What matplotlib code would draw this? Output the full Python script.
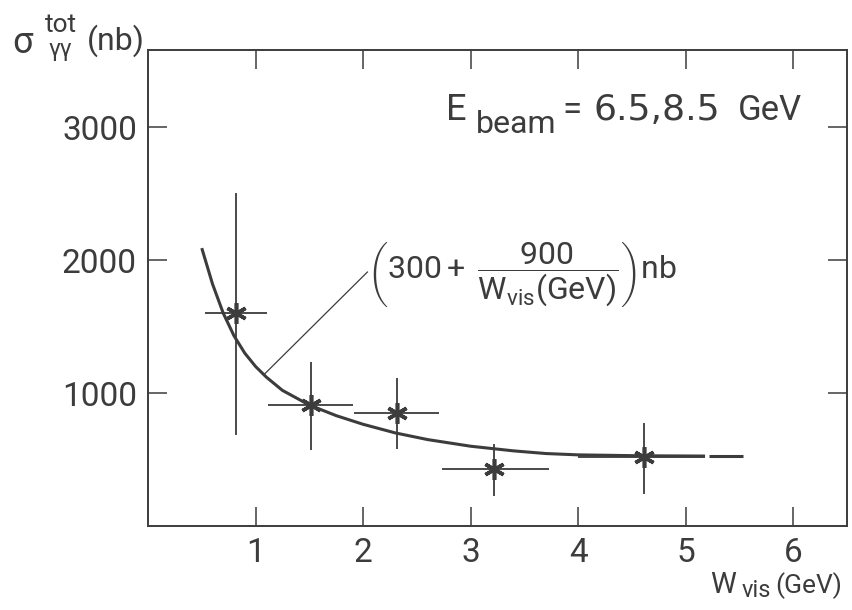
import numpy as np
from matplotlib import pyplot as plt

# measured points: W_vis (GeV), sigma (nb), with bar ends
w_vis = [0.82, 1.52, 2.32, 3.22, 4.61]
sigma = [1600, 910, 850, 425, 520]
w_lo = [0.53, 1.12, 1.92, 2.73, 4.00]
w_hi = [1.11, 1.91, 2.71, 3.73, 5.18]
sig_lo = [684, 571, 579, 226, 241]
sig_hi = [2504, 1233, 1113, 617, 774]

# fitted curve as drawn
curve_w = [0.50, 0.60, 0.70, 0.80, 0.90, 1.00, 1.10, 1.25, 1.50, 1.75,
           2.00, 2.30, 2.60, 3.00, 3.40, 3.70, 4.00, 4.60, 5.18]
curve_s = [2090, 1820, 1600, 1430, 1300, 1200, 1120, 1020, 910, 830,
           765, 700, 650, 600, 565, 545, 535, 528, 526]
tail_w = [5.22, 5.53]
tail_s = [526, 526]

xticks = [1, 2, 3, 4, 5, 6]
yticks = [1000, 2000, 3000]

ink = '#3c3c3c'
plt.rcParams['font.family'] = ['Roboto', 'DejaVu Sans']
plt.rcParams['mathtext.fontset'] = 'custom'
plt.rcParams['mathtext.rm'] = 'Roboto'
plt.rcParams['mathtext.it'] = 'Roboto:italic'
plt.rcParams['text.color'] = ink

W, H = 853, 610
fig = plt.figure(figsize=(W / 100, H / 100), dpi=100)
ax = fig.add_axes([148 / W, 1 - 526 / H, 699 / W, 476 / H])


def ptext(x, y, s, size, **kw):
    # place text by pixel position (x from left, baseline y from top)
    fig.text(x / W, 1 - y / H, s, fontsize=size, ha='left',
             va='baseline', **kw)


w = np.array(w_vis)
s = np.array(sigma)
xerr = [w - np.array(w_lo), np.array(w_hi) - w]
yerr = [s - np.array(sig_lo), np.array(sig_hi) - s]
ax.errorbar(w, s, xerr=xerr, yerr=yerr, fmt='none', ecolor=ink,
            elinewidth=1.3, capsize=0)
ax.plot(w, s, ls='none', marker=(6, 2, 0), ms=15, mew=2.6, mec=ink)

ax.plot(curve_w, curve_s, c=ink, lw=2.2, solid_capstyle='butt')
ax.plot(tail_w, tail_s, c=ink, lw=2.2, solid_capstyle='butt')

# leader line to the formula
ax.plot([1.08, 2.04], [1140, 1910], c=ink, lw=0.9)
ax.text(2.04, 1890,
        r'$\left(300 + \;\dfrac{900}{\mathrm{W_{vis}(GeV)}}\right)$nb',
        fontsize=23, va='center', ha='left')

# E_beam label, pieces placed by pixel
ptext(446, 120, 'E', 26)
ptext(476, 133, 'beam', 23)
ptext(562, 120, '=', 25)
ptext(594, 120, '6.5,8.5', 26, family='DejaVu Sans')
ptext(738, 120, 'GeV', 25)

ax.set_xlim(0, 6.5)
ax.set_ylim(0, 3580)
ax.set_xticks(xticks)
ax.set_yticks(yticks)
ax.tick_params(direction='in', length=14, width=1.1, color=ink,
               labelsize=24, labelcolor=ink, pad=8,
               top=True, right=True)
for sp in ax.spines.values():
    sp.set_linewidth(1.4)
    sp.set_color(ink)

# x axis label
ptext(710, 593, 'W', 21)
ptext(742, 597, 'vis', 17)
ptext(775, 593, '(GeV)', 19)

# y axis label
ptext(12, 53, 'σ', 26)
ptext(45, 32, 'tot', 19)
ptext(49, 56, 'γγ', 17)
ptext(87, 50, '(nb)', 23)

fig.savefig('out.png', dpi=100, facecolor='white')
